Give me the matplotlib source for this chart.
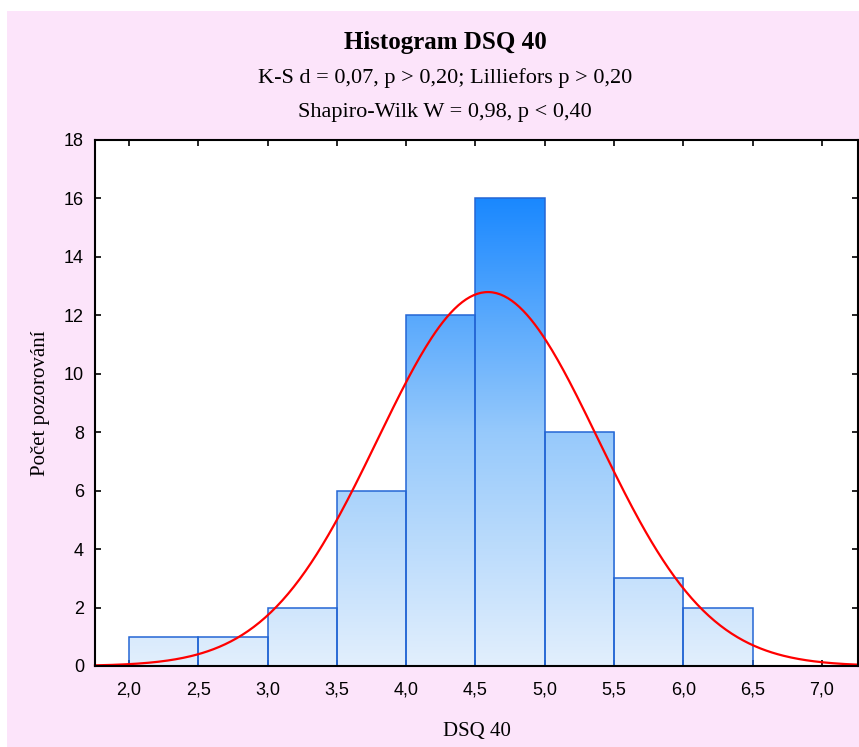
import numpy as np
import matplotlib.pyplot as plt
from matplotlib.colors import LinearSegmentedColormap
from matplotlib.patches import Rectangle

# histogram bins (DSQ 40) and counts
bin_edges = [2.0, 2.5, 3.0, 3.5, 4.0, 4.5, 5.0, 5.5, 6.0, 6.5]
counts = [1, 1, 2, 6, 12, 16, 8, 3, 2]
# fitted normal curve parameters
fit_mean = 4.59
fit_sd = 0.795

title = "Histogram DSQ 40"
sub1 = "K-S d = 0,07, p > 0,20; Lilliefors p > 0,20"
sub2 = "Shapiro-Wilk W = 0,98, p < 0,40"

serif = ["Liberation Serif", "DejaVu Serif"]
sans = ["Liberation Sans", "DejaVu Sans"]
PINK = "#fce4fa"

fig = plt.figure(figsize=(8.59, 7.47), dpi=100)
fig.patch.set_facecolor("white")
fig.patches.append(Rectangle((7 / 859, 0), 1, 1 - 11 / 747, transform=fig.transFigure,
                             facecolor=PINK, edgecolor="none", zorder=-5))

ax = fig.add_axes([95 / 859, 81 / 747, 763 / 859, 526 / 747])
ax.set_zorder(2)
ax.set_facecolor("white")
xmin, xmax = 1.755, 7.26
ymin, ymax = 0, 18

# gradient bars
cmap = LinearSegmentedColormap.from_list("blu", ["#e2effd", "#96c9fb", "#1a88ff"])
grad = np.linspace(0, 1, 256).reshape(-1, 1)
n = len(counts)
for i in range(n):
    x0, x1 = bin_edges[i], bin_edges[i + 1]
    h = counts[i]
    im = ax.imshow(grad, cmap=cmap, aspect="auto", origin="lower",
                   extent=[xmin, xmax, 0, max(counts)], zorder=1)
    rect = Rectangle((x0, 0), x1 - x0, h, facecolor="none", edgecolor="#2466d4",
                     linewidth=1.1, zorder=2)
    ax.add_patch(rect)
    im.set_clip_path(rect)
ax.set_xlim(xmin, xmax)
ax.set_ylim(ymin, ymax)

# normal curve
xs = np.linspace(xmin, xmax, 400)
total = sum(counts)
bw = bin_edges[1] - bin_edges[0]
ys = total * bw / (fit_sd * np.sqrt(2 * np.pi)) * np.exp(-0.5 * ((xs - fit_mean) / fit_sd) ** 2)
ax.plot(xs, ys, color="#ff0000", linewidth=1.6, zorder=3, clip_on=False)

ax.set_xticks(np.arange(2.0, 7.01, 0.5))
ax.set_xticklabels([f"{v:.1f}".replace(".", ",") for v in np.arange(2.0, 7.01, 0.5)])
ax.set_yticks(range(0, 19, 2))
ax.tick_params(direction="in", top=True, right=True, length=4, width=1.2,
               labelsize=13)
ax.tick_params(axis="x", pad=11)
ax.tick_params(axis="y", pad=8)
for lab in ax.get_xticklabels() + ax.get_yticklabels():
    lab.set_family(sans)
for s in ax.spines.values():
    s.set_linewidth(1.5)
    s.set_zorder(4)

ax.set_xlabel("DSQ 40", family=serif, fontsize=15, labelpad=17)
ax.set_ylabel("Počet pozorování", family=serif, fontsize=15, labelpad=10)

fig.text(445 / 859, 1 - 42 / 747, title, family=serif, fontsize=18, fontweight="bold",
         ha="center", va="center")
fig.text(445 / 859, 1 - 78 / 747, sub1, family=serif, fontsize=16, ha="center", va="center")
fig.text(445 / 859, 1 - 113 / 747, sub2, family=serif, fontsize=16, ha="center", va="center")

fig.savefig("out.png", dpi=100, facecolor=fig.get_facecolor())
